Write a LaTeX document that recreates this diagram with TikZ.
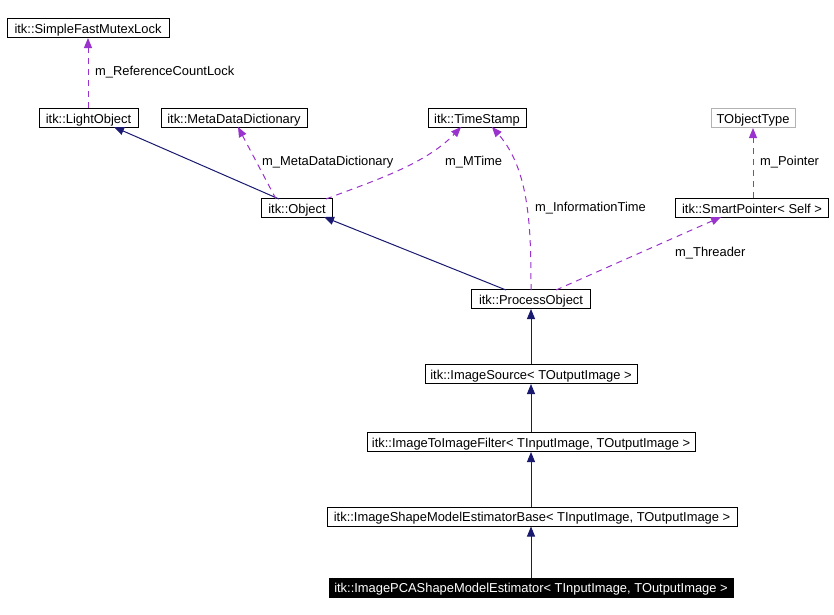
\documentclass[tikz,border=0pt]{standalone}
\usepackage{fontspec}
\setmainfont{Liberation Sans}
\usetikzlibrary{arrows.meta}
\definecolor{navyc}{HTML}{191970}
\definecolor{purp}{HTML}{9A32CD}
\begin{document}
\begin{tikzpicture}[x=1pt,y=-1pt,
  font=\fontsize{12.9}{14}\selectfont,
  cls/.style={draw=black,line width=1pt,rectangle,inner sep=0pt,minimum height=19pt,text height=10pt,text depth=0pt,anchor=center},
  inh/.style={draw=navyc,line width=1pt,-{Triangle[length=10pt,width=8pt]}},
  use/.style={draw=purp,line width=1pt,dash pattern=on 6pt off 5pt,-{Triangle[length=10pt,width=8pt]}},
  lab/.style={anchor=west,inner sep=0pt,text=black}]
\useasboundingbox (0,0) rectangle (834,614);
\node[cls,minimum width=162pt] (sfml) at (88,28) {itk::SimpleFastMutexLock};
\node[cls,minimum width=99pt] (lo) at (88.5,118) {itk::LightObject};
\node[cls,minimum width=146pt] (mdd) at (234,118) {itk::MetaDataDictionary};
\node[cls,minimum width=98pt] (ts) at (477,118) {itk::TimeStamp};
\node[cls,draw=gray!60,minimum width=84pt] (tot) at (753,118) {TObjectType};
\node[cls,minimum width=71pt] (obj) at (297,208) {itk::Object};
\node[cls,minimum width=153pt] (sp) at (752,208) {itk::SmartPointer< Self >};
\node[cls,minimum width=119pt] (po) at (531,299) {itk::ProcessObject};
\node[cls,minimum width=212pt] (is) at (531,374) {itk::ImageSource< TOutputImage >};
\node[cls,minimum width=328pt] (itif) at (531,442) {itk::ImageToImageFilter< TInputImage, TOutputImage >};
\node[cls,minimum width=410pt] (base) at (532,516.5) {itk::ImageShapeModelEstimatorBase< TInputImage, TOutputImage >};
\node[cls,fill=black,text=white,minimum width=404pt] (pca) at (531,587.5) {itk::ImagePCAShapeModelEstimator< TInputImage, TOutputImage >};
% connectors
\coordinate (loS) at (88,127);
\draw[use] (lo.north -| loS) -- (sfml.south -| loS);
\node[lab] at (95,72) {m\_ReferenceCountLock};
\coordinate (o1) at (279,199);
\coordinate (l1) at (114,127);
\draw[inh] (o1) -- (l1);
\coordinate (o2) at (276,199);
\coordinate (m1) at (238,127);
\draw[use] (o2) -- (m1);
\node[lab] at (262,162) {m\_MetaDataDictionary};
\coordinate (o3) at (326,199);
\coordinate (t1) at (461,127);
\draw[use] (o3) .. controls (370,182) and (425,165) .. (t1);
\node[lab] at (445,162) {m\_MTime};
\coordinate (p1) at (531,290);
\coordinate (t2) at (492,127);
\draw[use] (p1) .. controls (531,230) and (530,170) .. (t2);
\node[lab] at (535,208) {m\_InformationTime};
\coordinate (p2) at (506,290);
\coordinate (o4) at (324,217);
\draw[inh] (p2) -- (o4);
\coordinate (p3) at (556,290);
\coordinate (s1) at (721,217);
\draw[use] (p3) -- (s1);
\node[lab] at (675,253) {m\_Threader};
\draw[use] (sp.north -| tot.south) -- (tot.south);
\node[lab] at (760,162) {m\_Pointer};
\draw[inh] (is.north) -- (po.south);
\draw[inh] (itif.north -| is.south) -- (is.south);
\draw[inh] (base.north -| is.south) -- (itif.south -| is.south);
\draw[inh] (pca.north -| is.south) -- (base.south -| is.south);
\end{tikzpicture}
\end{document}
